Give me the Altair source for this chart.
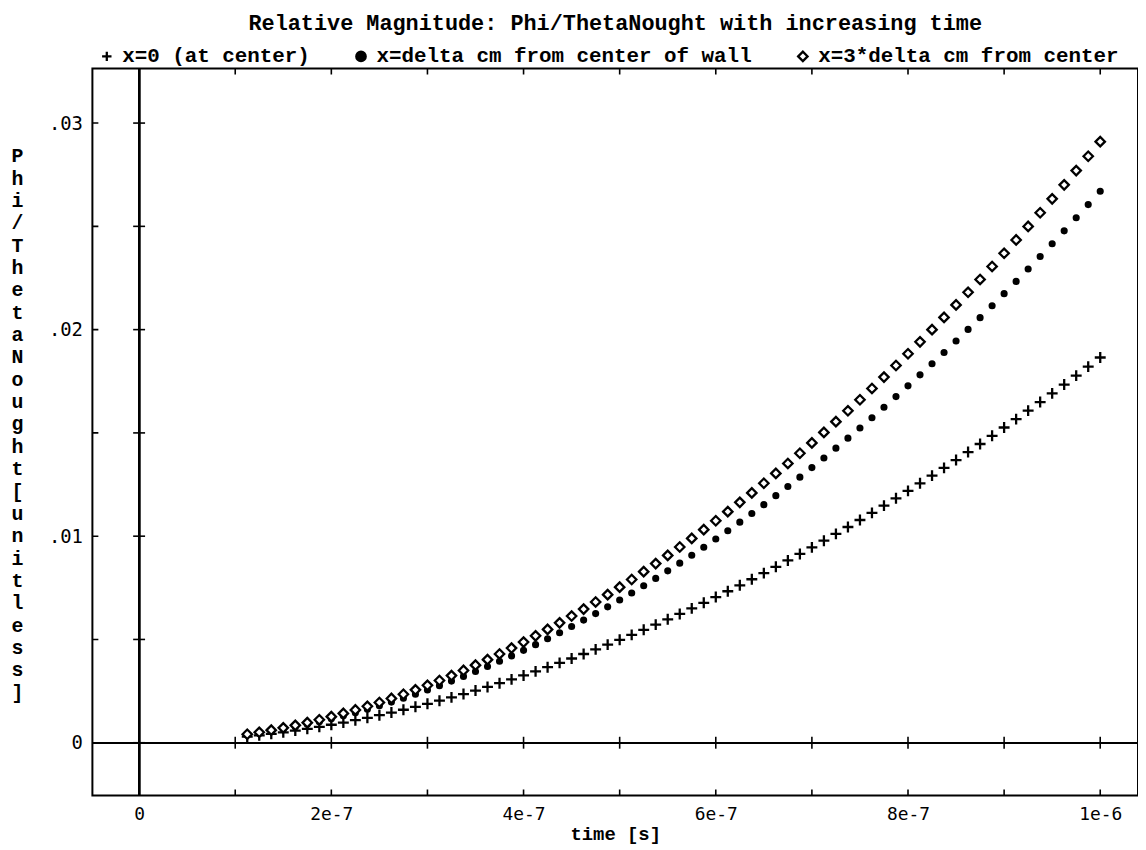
import altair as alt
import pandas as pd

series_names = ["x=0 (at center)", "x=delta cm from center of wall", "x=3*delta cm from center"]

time_ns = [112.5, 125, 137.5, 150, 162.5, 175, 187.5, 200, 212.5, 225, 237.5, 250,
           262.5, 275, 287.5, 300, 312.5, 325, 337.5, 350, 362.5, 375, 387.5, 400,
           412.5, 425, 437.5, 450, 462.5, 475, 487.5, 500, 512.5, 525, 537.5, 550,
           562.5, 575, 587.5, 600, 612.5, 625, 637.5, 650, 662.5, 675, 687.5, 700,
           712.5, 725, 737.5, 750, 762.5, 775, 787.5, 800, 812.5, 825, 837.5, 850,
           862.5, 875, 887.5, 900, 912.5, 925, 937.5, 950, 962.5, 975, 987.5, 1000]

center_milli = [0.291, 0.356, 0.427, 0.504, 0.586, 0.675, 0.770, 0.871, 0.977, 1.090, 1.208, 1.332,
                1.461, 1.596, 1.738, 1.884, 2.036, 2.194, 2.358, 2.527, 2.701, 2.882, 3.067, 3.258,
                3.455, 3.657, 3.865, 4.078, 4.296, 4.520, 4.749, 4.983, 5.223, 5.468, 5.719, 5.975,
                6.236, 6.503, 6.775, 7.052, 7.334, 7.622, 7.915, 8.212, 8.516, 8.824, 9.138, 9.457,
                9.781, 10.111, 10.445, 10.784, 11.130, 11.479, 11.834, 12.195, 12.559, 12.930, 13.306, 13.686,
                14.072, 14.463, 14.859, 15.261, 15.666, 16.077, 16.493, 16.914, 17.341, 17.772, 18.209, 18.650]

wall_milli = [0.377, 0.463, 0.557, 0.661, 0.772, 0.892, 1.021, 1.158, 1.303, 1.456, 1.618, 1.789,
              1.967, 2.154, 2.349, 2.552, 2.764, 2.983, 3.211, 3.447, 3.691, 3.944, 4.204, 4.472,
              4.749, 5.033, 5.326, 5.627, 5.936, 6.253, 6.578, 6.911, 7.251, 7.600, 7.957, 8.322,
              8.695, 9.076, 9.465, 9.861, 10.265, 10.678, 11.098, 11.527, 11.963, 12.406, 12.858, 13.319,
              13.786, 14.262, 14.745, 15.237, 15.736, 16.242, 16.757, 17.279, 17.810, 18.349, 18.894, 19.449,
              20.009, 20.579, 21.157, 21.742, 22.334, 22.934, 23.542, 24.159, 24.782, 25.415, 26.052, 26.700]

three_delta_milli = [0.411, 0.505, 0.608, 0.720, 0.842, 0.972, 1.112, 1.262, 1.420, 1.587, 1.764, 1.949,
                     2.144, 2.348, 2.560, 2.781, 3.012, 3.251, 3.500, 3.757, 4.023, 4.298, 4.582, 4.874,
                     5.176, 5.486, 5.805, 6.133, 6.469, 6.815, 7.169, 7.532, 7.903, 8.283, 8.672, 9.070,
                     9.476, 9.892, 10.315, 10.747, 11.188, 11.638, 12.096, 12.563, 13.038, 13.521, 14.014, 14.516,
                     15.025, 15.544, 16.070, 16.606, 17.151, 17.702, 18.263, 18.833, 19.410, 19.998, 20.593, 21.197,
                     21.808, 22.429, 23.058, 23.696, 24.342, 24.996, 25.658, 26.331, 27.010, 27.699, 28.394, 29.100]

x_tick_values = [0, 1e-7, 2e-7, 3e-7, 4e-7, 5e-7, 6e-7, 7e-7, 8e-7, 9e-7, 1e-6]
x_label_values = [0, 2e-7, 4e-7, 6e-7, 8e-7, 1e-6]
y_tick_values = [0, 0.005, 0.01, 0.015, 0.02, 0.025, 0.03]
y_label_values = [0, 0.01, 0.02, 0.03]

title_text = "Relative Magnitude: Phi/ThetaNought with increasing time"
y_title_lines = list("Phi/ThetaNought") + [" "] + list("[unitless]")

rows = []
for name, vals in zip(series_names, [center_milli, wall_milli, three_delta_milli]):
    for t, v in zip(time_ns, vals):
        rows.append({"time": t * 1e-9, "value": v / 1000.0, "series": name})
df = pd.DataFrame(rows)
ytick_df = pd.DataFrame({"v": y_tick_values})
xtick_df = pd.DataFrame({"t": x_tick_values})

W, H = 1053, 732
xs = alt.Scale(domain=[-4.86e-8, 1.0393e-6], nice=False, zero=False)
ys = alt.Scale(domain=[-0.00255, 0.03264], nice=False, zero=False)

MONO = "Liberation Mono"
LAB = "DejaVu Sans Mono"
PLUS = "M-1,0L1,0M0,-1L0,1"

# marker areas (px^2) per series: plus, dot, open diamond
marker_sizes = [121, 24, 90]
size_expr = "datum.series == '{0}' ? {3} : (datum.series == '{1}' ? {4} : {5})".format(
    *series_names, *marker_sizes)

x_axis = alt.Axis(
    values=x_label_values, ticks=False, domain=False, grid=False,
    labelFont=LAB, labelFontSize=18, labelColor="black", labelPadding=10,
    labelFlush=False, labelOverlap=False,
    labelExpr="datum.value == 0 ? '0' : (datum.value > 9.5e-7 ? '1e-6' : format(datum.value * 1e7, '.0f') + 'e-7')",
    title="time [s]", titleFont=MONO, titleFontSize=19, titleFontWeight="bold",
    titleColor="black", titlePadding=1,
)
y_axis = alt.Axis(
    values=y_label_values, ticks=False, domain=False, grid=False,
    labelFont=LAB, labelFontSize=19, labelColor="black", labelPadding=10,
    labelOverlap=False,
    labelExpr="datum.value == 0 ? '0' : replace(format(datum.value, '.2f'), '0.', '.')",
    title=y_title_lines, titleAngle=0, titleAlign="center", titleBaseline="top",
    titleX=-76, titleY=78, titleLineHeight=22.5,
    titleFont=MONO, titleFontSize=20, titleFontWeight="bold", titleColor="black",
)


def X(field):
    return alt.X(field, type="quantitative", scale=xs, axis=x_axis)


def Y(field):
    return alt.Y(field, type="quantitative", scale=ys, axis=y_axis)


def X0():
    return alt.XDatum(0, type="quantitative", scale=xs, axis=x_axis)


def Y0():
    return alt.YDatum(0, type="quantitative", scale=ys, axis=y_axis)


tick_style = dict(size=12, thickness=1.6, color="black", opacity=1)

v_rule = alt.Chart(xtick_df).mark_rule(color="black", strokeWidth=2).encode(x=X0())
h_rule = alt.Chart(xtick_df).mark_rule(color="black", strokeWidth=1.6).encode(y=Y0())

cross_y = alt.Chart(ytick_df).mark_tick(orient="horizontal", **tick_style).encode(x=X0(), y=Y("v"))
cross_x = alt.Chart(xtick_df).mark_tick(orient="vertical", **tick_style).encode(x=X("t"), y=Y0())
left_ticks = alt.Chart(ytick_df).mark_tick(orient="horizontal", clip=True, **tick_style).encode(
    x=alt.value(0), y=Y("v"))
bottom_ticks = alt.Chart(xtick_df).mark_tick(orient="vertical", clip=True, **tick_style).encode(
    x=X("t"), y=alt.value(H))
top_ticks = alt.Chart(xtick_df).mark_tick(orient="vertical", clip=True, **tick_style).encode(
    x=X("t"), y=alt.value(0))

legend = alt.Legend(
    title=None, orient="none", legendX=4, legendY=-23, direction="horizontal",
    labelFont=MONO, labelFontSize=21, labelFontWeight="bold", labelColor="black",
    labelLimit=0, symbolStrokeColor="black", symbolStrokeWidth=2.3, symbolSize=90,
    columnPadding=40, padding=0, labelOffset=5,
)

points = alt.Chart(df).transform_calculate(msize=size_expr).mark_point(
    opacity=1, strokeWidth=2.3).encode(
    x=X("time"),
    y=Y("value"),
    shape=alt.Shape("series:N", scale=alt.Scale(domain=series_names, range=[PLUS, "circle", "diamond"]),
                    legend=legend),
    fill=alt.Fill("series:N", scale=alt.Scale(domain=series_names, range=["transparent", "black", "white"]),
                  legend=legend),
    stroke=alt.Stroke("series:N", scale=alt.Scale(domain=series_names, range=["black", "black", "black"]),
                      legend=legend),
    size=alt.Size("msize:Q", scale=None, legend=None),
)

chart = alt.layer(
    v_rule, h_rule, cross_y, cross_x, left_ticks, bottom_ticks, top_ticks, points
).properties(
    width=W, height=H,
    padding={"left": 85, "top": 58, "right": 0, "bottom": 50},
    autosize=alt.AutoSizeParams(type="none"),
    background="white",
    title=alt.TitleParams(title_text, font=MONO, fontSize=22, fontWeight="bold",
                          color="black", anchor="middle", frame="group", offset=11),
).configure_view(stroke="black", strokeWidth=2)

chart.save("out.html", embed_options={"renderer": "svg", "actions": False})
